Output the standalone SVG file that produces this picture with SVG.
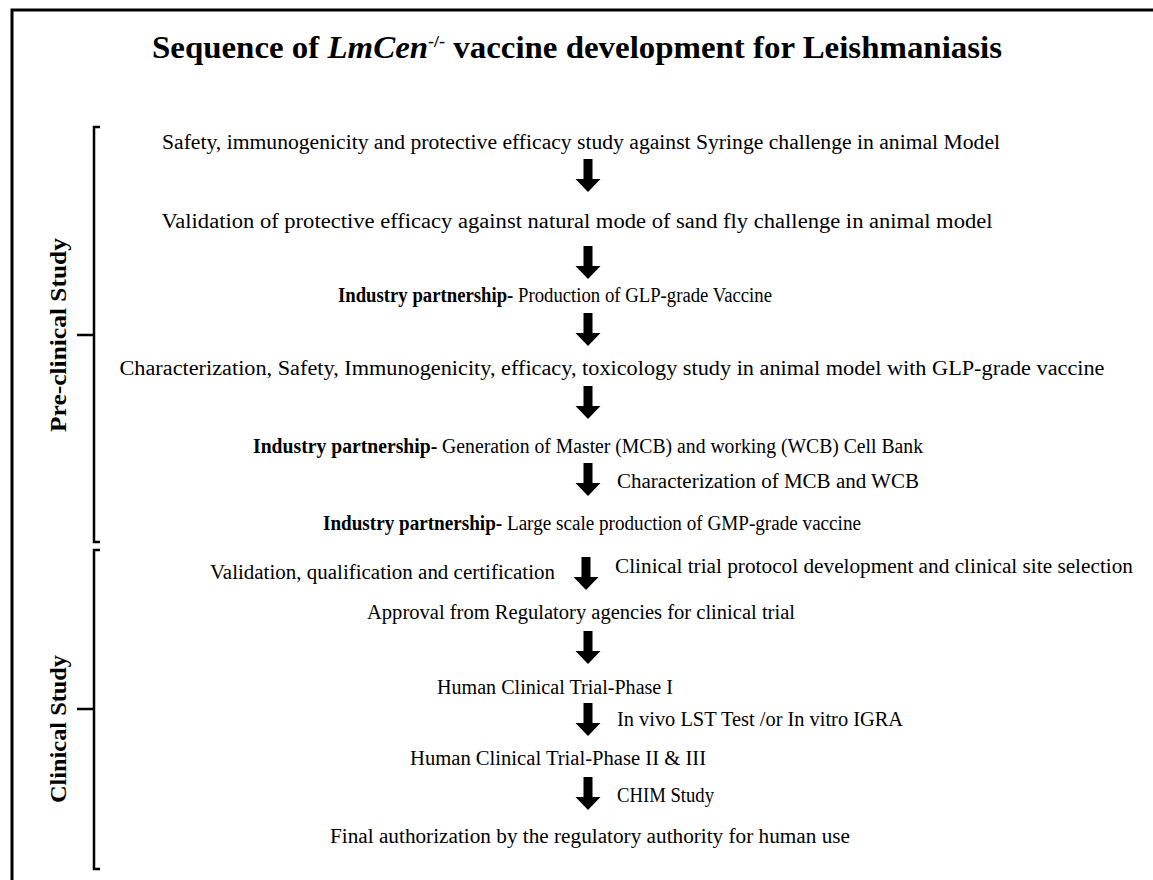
<svg xmlns="http://www.w3.org/2000/svg" width="1153" height="880" viewBox="0 0 1153 880">
<defs>
<style>
.t{font-family:"Liberation Serif","Times New Roman",serif;font-size:20.5px;fill:#000;text-anchor:middle}
.s{text-anchor:start}
.e{text-anchor:end}
.b{font-weight:bold}
.title{font-family:"Liberation Serif","Times New Roman",serif;font-size:31px;font-weight:bold;fill:#000;text-anchor:middle}
.lab{font-family:"Liberation Serif","Times New Roman",serif;font-size:24px;font-weight:bold;fill:#000;text-anchor:middle}
.br{fill:none;stroke:#000;stroke-width:2.5}
</style>
<path id="arr" d="M-4.5,0 H4.5 V20 H12.5 L0,33 L-12.5,20 H-4.5 Z" fill="#000"/>
</defs>
<rect width="1153" height="880" fill="#fff"/>
<path d="M12,880 V10 H1153" fill="none" stroke="#000" stroke-width="3"/>
<g id="title"><text class="title" x="577" y="58" textLength="850" lengthAdjust="spacingAndGlyphs">Sequence of <tspan font-style="italic">LmCen</tspan><tspan font-size="17" dy="-11">-/-</tspan><tspan dy="11"> vaccine development for Leishmaniasis</tspan></text></g>
<g id="preclinical-bracket">
<path class="br" d="M100,127 H94 V542 H100 M77,335 H94"/>
<text class="lab" transform="translate(66,335) rotate(-90)" textLength="194" lengthAdjust="spacingAndGlyphs">Pre-clinical Study</text>
</g>
<g id="clinical-bracket">
<path class="br" d="M100,550 H94 V869 H100 M77,709 H94"/>
<text class="lab" transform="translate(66,729) rotate(-90)" textLength="148" lengthAdjust="spacingAndGlyphs">Clinical Study</text>
</g>
<g id="n1"><text class="t" x="581" y="149" textLength="838" lengthAdjust="spacingAndGlyphs">Safety, immunogenicity and protective efficacy study against Syringe challenge in animal Model</text></g>
<g id="n2"><text class="t" x="577" y="228" textLength="831" lengthAdjust="spacingAndGlyphs">Validation of protective efficacy against natural mode of sand fly challenge in animal model</text></g>
<g id="n3"><text class="t" x="555" y="302" textLength="434" lengthAdjust="spacingAndGlyphs"><tspan class="b">Industry partnership-</tspan> Production of GLP-grade Vaccine</text></g>
<g id="n4"><text class="t" x="612" y="375" textLength="985" lengthAdjust="spacingAndGlyphs">Characterization, Safety, Immunogenicity, efficacy, toxicology study in animal model with GLP-grade vaccine</text></g>
<g id="n5"><text class="t" x="588" y="453" textLength="670" lengthAdjust="spacingAndGlyphs"><tspan class="b">Industry partnership-</tspan> Generation of Master (MCB) and working (WCB) Cell Bank</text></g>
<g id="n5a"><text class="t s" x="617" y="488" textLength="302" lengthAdjust="spacingAndGlyphs">Characterization of MCB and WCB</text></g>
<g id="n6"><text class="t" x="592" y="530" textLength="538" lengthAdjust="spacingAndGlyphs"><tspan class="b">Industry partnership-</tspan> Large scale production of GMP-grade vaccine</text></g>
<g id="n6a"><text class="t e" x="555" y="579" textLength="345" lengthAdjust="spacingAndGlyphs">Validation, qualification and certification</text></g>
<g id="n6b"><text class="t s" x="615" y="573" textLength="518" lengthAdjust="spacingAndGlyphs">Clinical trial protocol development and clinical site selection</text></g>
<g id="n7"><text class="t" x="581" y="619" textLength="428" lengthAdjust="spacingAndGlyphs">Approval from Regulatory agencies for clinical trial</text></g>
<g id="n8"><text class="t" x="555" y="694" textLength="236" lengthAdjust="spacingAndGlyphs">Human Clinical Trial-Phase I</text></g>
<g id="n8a"><text class="t s" x="617" y="726" textLength="286" lengthAdjust="spacingAndGlyphs">In vivo LST Test /or In vitro IGRA</text></g>
<g id="n9"><text class="t" x="558" y="765" textLength="296" lengthAdjust="spacingAndGlyphs">Human Clinical Trial-Phase II &amp; III</text></g>
<g id="n9a"><text class="t s" x="617" y="802" textLength="97" lengthAdjust="spacingAndGlyphs">CHIM Study</text></g>
<g id="n10"><text class="t" x="590" y="843" textLength="520" lengthAdjust="spacingAndGlyphs">Final authorization by the regulatory authority for human use</text></g>
<g id="connectors">
<use href="#arr" x="588" y="159"/>
<use href="#arr" x="588" y="246"/>
<use href="#arr" x="588" y="313"/>
<use href="#arr" x="588" y="386"/>
<use href="#arr" x="588" y="463"/>
<use href="#arr" x="586" y="557"/>
<use href="#arr" x="588" y="631"/>
<use href="#arr" x="588" y="703"/>
<use href="#arr" x="588" y="777"/>
</g>
</svg>
